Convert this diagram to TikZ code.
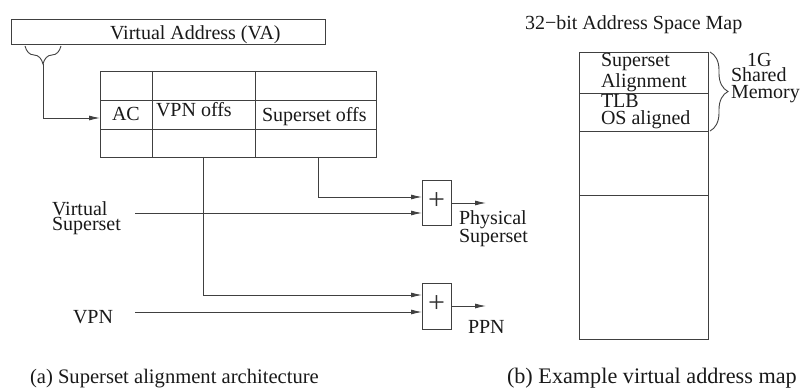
\documentclass[tikz,border=0pt]{standalone}
\usepackage{fontspec}
\setmainfont{Liberation Serif}
\usetikzlibrary{arrows.meta,decorations.pathreplacing}

\tikzset{
  x=1pt, y=-1pt,
  every node/.style={inner sep=0pt, outer sep=0pt, font=\fontsize{20pt}{20pt}\selectfont},
  blk/.style={draw=black!75, line width=0.9pt, rectangle, anchor=north west},
  lbl/.style={anchor=base west, text=black!90},
  stack/.style={lbl, align=left},
  plus/.style={font=\fontsize{30pt}{30pt}\selectfont, text=black!80},
  wire/.style={draw=black!75, line width=0.9pt},
  arr/.style={wire, -{Latex[length=11pt,width=5pt]}},
  curly/.style={wire, decorate, decoration={brace, amplitude=18pt}},
}

\begin{document}
\begin{tikzpicture}
\useasboundingbox (0,0) rectangle (803,390);

% ---- (a) superset alignment architecture ----
\node[blk, minimum width=314pt, minimum height=25pt] (va) at (11,19) {};
\node[lbl] (vatext) at (110,40) {Virtual Address (VA)};

% brace marking the address-class bits of the VA
\coordinate (bl) at (25,46);
\coordinate (br) at (61,46);
\draw[curly, decoration={mirror}] (bl) -- (br);
\coordinate (tip) at (43,64);

% lookup table
\node[blk, minimum width=276pt, minimum height=86pt] (tbl) at (100,71) {};
\draw[wire] (100,100) -- (376,100);
\draw[wire] (100,129) -- (376,129);
\draw[wire] (152,71) -- (152,157);
\draw[wire] (255,71) -- (255,157);
\node[lbl] (ac) at (112,121) {AC};
\node[lbl] (vpnoffs) at (156,117) {VPN offs};
\node[lbl] (ssoffs) at (262,122) {Superset offs};

\coordinate (acin) at (100,118);
\draw[arr] (tip) |- (acin);

% adders
\node[blk, minimum width=29pt, minimum height=45pt] (add1) at (422,180) {};
\node[plus] (plus1) at (436.5,201) {+};
\node[blk, minimum width=29pt, minimum height=46pt] (add2) at (422,283) {};
\node[plus] (plus2) at (436.5,304) {+};

\coordinate (vpntap) at (203,157);
\coordinate (sstap) at (318,157);
\coordinate (a1i1) at (422,197);
\coordinate (a1i2) at (422,213);
\coordinate (a2i1) at (422,295);
\coordinate (a2i2) at (422,312);
\coordinate (vsin) at (135,213);
\coordinate (vpnin) at (135,312);
\coordinate (a1o) at (486,203);
\coordinate (a2o) at (486,306);

\draw[arr] (sstap) |- (a1i1);
\draw[arr] (vsin) -- (a1i2);
\draw[arr] (vpntap) |- (a2i1);
\draw[arr] (vpnin) -- (a2i2);
\draw[arr] (add1.east |- a1o) -- (a1o);
\draw[arr] (add2.east |- a2o) -- (a2o);

% two-line labels: base anchor sits on the last line
\node[stack, font=\fontsize{20pt}{15pt}\selectfont] (vs) at (52,230) {Virtual\\Superset};
\node[lbl] (vpn) at (73,323) {VPN};
\node[stack, font=\fontsize{20pt}{15pt}\selectfont] (ps) at (459,243) {Physical\\Superset};
\node[lbl] (ppn) at (468,333) {PPN};

\node[lbl, font=\fontsize{20.6pt}{20pt}\selectfont] (capa) at (30,383) {(a) Superset alignment architecture};

% ---- (b) example virtual address map ----
\node[lbl] (maptitle) at (525,30) {32−bit Address Space Map};
\node[blk, minimum width=129pt, minimum height=287pt] (map) at (579,52) {};
\draw[wire] (579,93) -- (708,93);
\draw[wire] (579,131) -- (708,131);
\draw[wire] (579,195) -- (708,195);
\node[stack, font=\fontsize{20pt}{21pt}\selectfont] (mtop) at (601,88) {Superset\\Alignment};
\node[stack, font=\fontsize{20pt}{17pt}\selectfont] (mtlb) at (601,125) {TLB\\OS aligned};

\coordinate (bt) at (710,52);
\coordinate (bb) at (710,131);
\draw[curly] (bt) -- (bb);
\node[stack, font=\fontsize{20pt}{15pt}\selectfont] (shm) at (731,99) {\hspace{16pt}1G\\Shared\\[2pt]Memory};

\node[lbl, font=\fontsize{22.2pt}{22pt}\selectfont] (capb) at (507,383) {(b) Example virtual address map};
\end{tikzpicture}
\end{document}
